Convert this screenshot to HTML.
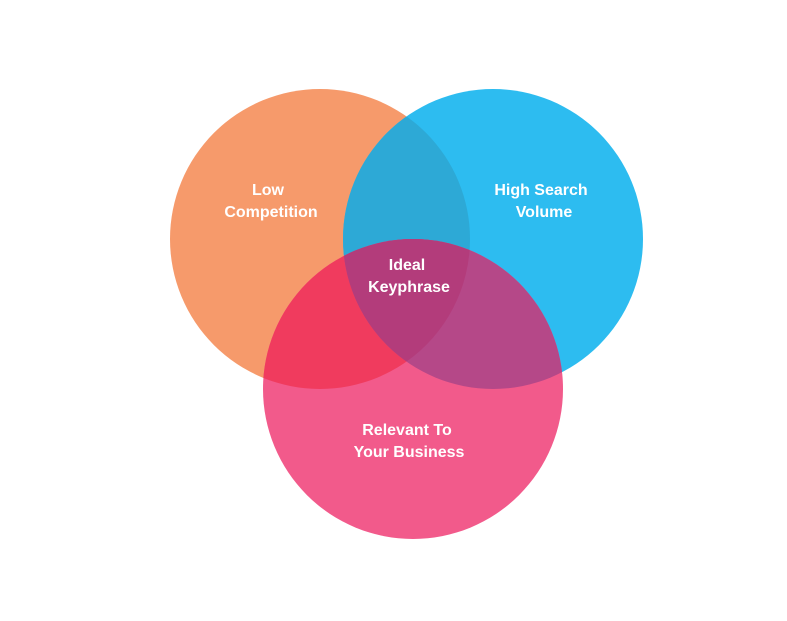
<!DOCTYPE html>
<html><head><meta charset="utf-8"><style>
html,body{margin:0;padding:0;background:#fff;}
svg{display:block}
text{font-family:"Liberation Sans",sans-serif;font-weight:bold;font-size:16px;fill:#fff;text-anchor:middle}
</style></head><body>
<svg width="787" height="621" viewBox="0 0 787 621">
<defs>
<clipPath id="o"><circle cx="320" cy="239" r="150"/></clipPath>
<clipPath id="b"><circle cx="493" cy="239" r="150"/></clipPath>
<clipPath id="ob" clip-path="url(#o)"><circle cx="493" cy="239" r="150"/></clipPath>
</defs>
<circle cx="320" cy="239" r="150" fill="#F69A6B"/>
<circle cx="493" cy="239" r="150" fill="#2DBCF0"/>
<circle cx="493" cy="239" r="150" fill="#2DA9D6" clip-path="url(#o)"/>
<circle cx="413" cy="389" r="150" fill="#F25A8B"/>
<circle cx="413" cy="389" r="150" fill="#F03B5E" clip-path="url(#o)"/>
<circle cx="413" cy="389" r="150" fill="#B54888" clip-path="url(#b)"/>
<circle cx="413" cy="389" r="150" fill="#B33C7B" clip-path="url(#ob)"/>
<text x="268" y="195">Low</text>
<text x="271" y="217">Competition</text>
<text x="541" y="195">High Search</text>
<text x="544" y="217">Volume</text>
<text x="407" y="270">Ideal</text>
<text x="409" y="292">Keyphrase</text>
<text x="407" y="435">Relevant To</text>
<text x="409" y="457">Your Business</text>
</svg>
</body></html>
